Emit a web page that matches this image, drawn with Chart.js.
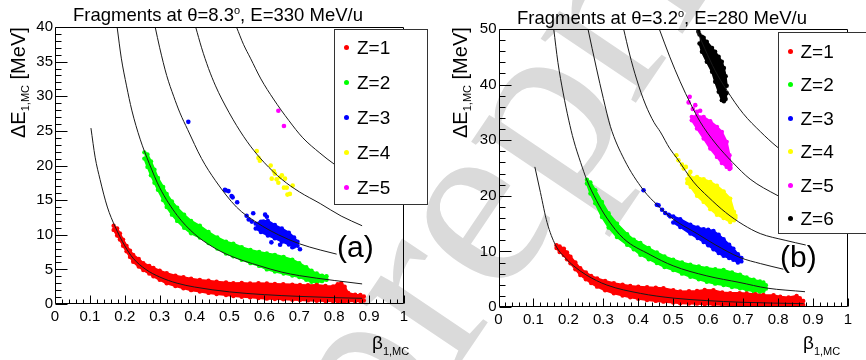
<!DOCTYPE html>
<html><head><meta charset="utf-8">
<script src="https://cdn.jsdelivr.net/npm/chart.js@4.4.1/dist/chart.umd.min.js"></script>
<style>
html,body{margin:0;padding:0;background:#fff}
body{width:866px;height:360px;overflow:hidden;position:relative;font-family:"Liberation Sans",Arial,Helvetica,sans-serif;color:#000}
canvas{position:absolute;top:0;z-index:2}
#cA{left:0}
#cB{left:433px}
.t{position:absolute;white-space:nowrap;line-height:1;z-index:3}
.leg{position:absolute;background:#fff;border:1px solid #333;box-sizing:border-box;z-index:4}
.lrow{position:absolute;font-size:19px;line-height:19px;white-space:nowrap;z-index:5}
.ldot{position:absolute;width:5px;height:5px;border-radius:50%;z-index:5}
.wm{position:absolute;z-index:1;font-family:"Liberation Serif","DejaVu Serif",serif;font-size:250px;line-height:250px;color:#dadada;white-space:nowrap;transform-origin:0 209.4px;transform:rotate(-56deg)}
.rot{transform-origin:0 0;transform:rotate(-90deg)}
</style></head>
<body>
<div class="wm" style="left:385px;top:266px">preprint</div>
<canvas id="cA" width="433" height="360"></canvas>
<canvas id="cB" width="433" height="360"></canvas>
<div class="t" style="left:73px;top:5px;font-size:18.5px">Fragments at θ=8.3<sup style="font-size:11px;vertical-align:7px">o</sup>, E=330 MeV/u</div>
<div class="t" style="left:517px;top:8.3px;font-size:18.5px">Fragments at θ=3.2<sup style="font-size:11px;vertical-align:7px">o</sup>, E=280 MeV/u</div>
<div class="t rot" style="left:8px;top:138px;font-size:20px;line-height:20px">ΔE<span style="font-size:11px;position:relative;top:4px">1,MC</span> [MeV]</div>
<div class="t rot" style="left:450px;top:138px;font-size:20px;line-height:20px">ΔE<span style="font-size:11px;position:relative;top:4px">1,MC</span> [MeV]</div>
<div class="t" style="left:372px;top:333px;font-size:19px">β<span style="font-size:11px;position:relative;top:6px">1,MC</span></div>
<div class="t" style="left:803px;top:333px;font-size:19px">β<span style="font-size:11px;position:relative;top:6px">1,MC</span></div>
<div class="t" style="left:337px;top:232px;font-size:30px">(a)</div>
<div class="t" style="left:780px;top:242px;font-size:30px">(b)</div>
<div id="legA" class="leg" style="left:334px;top:29px;width:94px;height:176px"></div>
<div id="legB" class="leg" style="left:778px;top:32px;width:100px;height:202px"></div>
<script>
// ---------- labels ----------
const seriesNamesA = ['Z=1','Z=2','Z=3','Z=4','Z=5'];
const seriesNamesB = ['Z=1','Z=2','Z=3','Z=4','Z=5','Z=6'];
const seriesColors = ['#ff0000','#00ff00','#0000ff','#ffff00','#ff00ff','#000000'];
const xTickLabels = ['0','0.1','0.2','0.3','0.4','0.5','0.6','0.7','0.8','0.9','1'];
const yTickLabelsA = ['0','5','10','15','20','25','30','35','40'];
const yTickLabelsB = ['0','10','20','30','40','50'];

// ---------- panel (a): dense clouds as [beta, lower dE, upper dE] ----------
const A_band1 = [[0.168,10.7,11.3],[0.178,9.9,10.9],[0.186,9.3,10.2],[0.195,8.4,9.3],[0.205,7.6,8.4],[0.215,6.8,7.7],[0.224,6.1,7.1],[0.24,5.4,6.5],[0.253,4.9,5.9],[0.27,4.4,5.5],[0.282,4.0,5.2],[0.30,3.5,4.8],[0.32,3.0,4.45],[0.345,2.6,4.1],[0.368,2.27,3.87],[0.39,2.0,3.65],[0.415,1.8,3.48],[0.44,1.6,3.35],[0.463,1.45,3.23],[0.49,1.3,3.1],[0.511,1.16,3.0],[0.535,1.05,3.05],[0.559,0.97,2.95],[0.583,0.85,3.0],[0.607,0.77,2.95],[0.63,0.72,2.9],[0.654,0.68,2.85],[0.68,0.62,2.8],[0.702,0.58,2.75],[0.725,0.52,2.7],[0.75,0.48,2.75],[0.775,0.44,2.6],[0.797,0.40,2.55],[0.81,0.40,2.85],[0.82,0.40,3.0],[0.83,0.40,2.5],[0.84,0.40,1.6],[0.86,0.40,1.35],[0.875,0.42,1.3],[0.885,0.5,1.1]];
const A_band2 = [[0.256,21.0,21.9],[0.265,19.8,21.6],[0.275,18.6,20.6],[0.285,17.5,19.4],[0.295,16.5,18.2],[0.31,15.0,16.9],[0.32,14.0,15.9],[0.335,12.9,14.8],[0.35,12.0,13.9],[0.37,11.0,12.9],[0.39,10.2,12.0],[0.415,9.6,11.3],[0.44,8.8,10.4],[0.465,8.0,9.6],[0.49,7.3,9.0],[0.511,6.9,8.7],[0.535,6.4,8.2],[0.56,5.9,7.8],[0.585,5.5,7.5],[0.607,5.0,7.3],[0.63,4.7,7.1],[0.655,4.4,6.8],[0.68,4.1,6.4],[0.70,3.9,5.9],[0.72,3.5,5.3],[0.735,3.2,4.8],[0.75,3.1,4.4],[0.765,3.3,4.1],[0.778,3.5,4.0]];
const A_band3 = [[0.575,10.9,11.6],[0.59,10.4,11.9],[0.61,9.9,12.0],[0.63,9.5,11.4],[0.65,9.0,10.9],[0.67,8.6,10.3],[0.685,8.3,9.6],[0.695,8.4,9.0]];
// ---------- panel (a): isolated points [beta, dE] ----------
const A_pts3 = [[0.382,26.3],[0.487,16.5],[0.49,16.4],[0.497,16.3],[0.506,15.6],[0.509,15.4],[0.522,14.7],[0.549,12.75],[0.568,13.1],[0.564,11.9],[0.602,12.9],[0.607,12.6],[0.597,11.9],[0.702,7.9],[0.645,8.55],[0.62,8.9],[0.68,8.2],[0.555,12.2]];
const A_pts4 = [[0.578,22.1],[0.583,21.1],[0.587,20.7],[0.618,20.0],[0.63,18.8],[0.621,18.1],[0.635,18.0],[0.65,18.6],[0.659,18.1],[0.64,17.5],[0.656,16.8],[0.664,16.8],[0.681,17.1],[0.666,15.8],[0.673,15.9],[0.645,18.3],[0.627,19.2]];
const A_pts5 = [[0.64,27.9],[0.656,25.7]];
// ---------- panel (a): expected dE curves ----------
const A_curve1 = [[0.103,25.4],[0.115,21.2],[0.129,18.0],[0.15,14.0],[0.172,11.2],[0.2,8.4],[0.224,6.6],[0.26,5.0],[0.3,3.9],[0.35,3.0],[0.4,2.45],[0.5,1.75],[0.6,1.35],[0.7,1.1],[0.8,0.92],[0.88,0.82]];
const A_curve2 = [[0.178,40],[0.19,35.5],[0.205,31.5],[0.22,28.0],[0.244,23.8],[0.27,20.3],[0.30,16.8],[0.35,12.8],[0.40,10.1],[0.45,8.3],[0.50,7.0],[0.587,5.5],[0.65,4.6],[0.70,4.1],[0.80,3.4],[0.88,2.9]];
const A_curve3 = [[0.287,40],[0.30,37.0],[0.32,33.0],[0.34,30.0],[0.358,27.6],[0.38,25.2],[0.42,21.0],[0.46,17.8],[0.52,14.0],[0.58,11.7],[0.64,10.0],[0.70,8.7],[0.76,7.8],[0.807,7.2]];
const A_curve4 = [[0.403,40],[0.42,37.0],[0.44,34.0],[0.46,31.5],[0.478,29.6],[0.52,25.8],[0.56,22.8],[0.60,20.4],[0.65,18.0],[0.70,16.2],[0.76,14.5],[0.82,12.7],[0.88,11.3]];
const A_curve5 = [[0.52,40],[0.54,37.5],[0.56,35.5],[0.59,32.5],[0.626,29.6],[0.67,26.5],[0.71,24.0],[0.759,21.8],[0.80,20.2],[0.88,17.7]];

// ---------- panel (b): dense clouds ----------
const B_band1 = [[0.166,10.6,11.1],[0.175,9.9,10.9],[0.187,9.35,10.5],[0.196,8.6,9.8],[0.206,7.86,9.05],[0.22,6.8,8.0],[0.234,5.76,6.96],[0.25,5.0,6.2],[0.265,4.3,5.6],[0.282,3.66,5.15],[0.305,3.0,4.7],[0.33,2.46,4.26],[0.355,2.05,4.0],[0.377,1.74,3.78],[0.40,1.48,3.65],[0.425,1.26,3.54],[0.45,1.1,3.45],[0.472,0.96,3.36],[0.50,0.8,3.0],[0.52,0.66,2.8],[0.545,0.62,2.85],[0.568,0.6,2.9],[0.59,0.5,3.05],[0.615,0.45,3.0],[0.64,0.4,2.6],[0.663,0.36,2.5],[0.69,0.34,2.5],[0.71,0.32,2.45],[0.735,0.31,2.3],[0.758,0.3,2.15],[0.787,0.28,2.1],[0.806,0.26,1.85],[0.83,0.25,1.7],[0.853,0.24,2.0],[0.862,0.26,1.6],[0.872,0.36,1.1]];
const B_band2 = [[0.253,22.2,22.9],[0.263,20.4,22.4],[0.277,18.65,21.0],[0.296,16.2,18.9],[0.315,14.3,16.85],[0.339,12.6,15.0],[0.368,11.2,13.1],[0.387,10.4,12.1],[0.406,9.4,11.5],[0.43,8.6,10.6],[0.453,7.9,9.8],[0.475,7.2,9.1],[0.50,6.65,8.5],[0.525,6.0,8.0],[0.549,5.45,7.6],[0.573,5.0,7.3],[0.596,4.55,7.0],[0.62,4.2,6.8],[0.644,3.96,6.65],[0.668,3.6,6.2],[0.691,3.36,5.8],[0.71,3.1,5.3],[0.73,2.85,4.9],[0.748,2.75,4.6],[0.758,2.9,4.4],[0.765,3.3,3.9]];
const B_band3 = [[0.50,15.2,16.3],[0.52,14.4,15.8],[0.549,13.2,14.8],[0.57,12.4,14.3],[0.587,11.7,14.0],[0.60,11.1,13.9],[0.615,10.4,13.7],[0.63,9.7,13.0],[0.644,9.2,12.2],[0.66,8.8,11.2],[0.672,8.5,10.5],[0.685,8.0,9.5],[0.695,8.2,8.8]];
const B_band4 = [[0.54,22.3,23.0],[0.55,21.6,23.3],[0.568,20.0,23.4],[0.587,18.9,23.0],[0.606,17.6,22.5],[0.625,16.6,21.8],[0.644,16.0,20.8],[0.663,15.3,19.5],[0.674,15.6,17.1],[0.678,16.0,16.4]];
const B_band5 = [[0.553,33.6,34.2],[0.568,32.1,34.4],[0.587,30.3,34.2],[0.606,28.5,33.4],[0.625,27.0,32.4],[0.639,25.9,31.5],[0.653,25.2,29.7],[0.661,24.8,27.3],[0.664,25.0,25.6]];
const B_band6 = [[0.575,47.4,49.0],[0.582,45.9,48.6],[0.596,44.1,47.7],[0.611,42.3,46.6],[0.62,40.5,45.9],[0.63,38.7,45.0],[0.639,37.2,44.1],[0.645,37.0,43.0],[0.650,37.4,41.5],[0.653,38.5,39.8]];
// ---------- panel (b): isolated points ----------
const B_pts3 = [[0.415,21.0],[0.453,18.4],[0.458,18.3],[0.468,17.5],[0.477,16.9],[0.487,16.6],[0.491,16.3]];
const B_pts4 = [[0.509,27.3],[0.515,26.4],[0.525,25.6],[0.53,24.9],[0.536,25.2],[0.549,24.3],[0.545,23.8]];
const B_pts5 = [[0.547,37.8],[0.544,36.8],[0.563,36.3],[0.568,35.1],[0.577,35.3],[0.556,35.6]];
const B_pts6 = [[0.572,49.5],[0.587,48.4]];
// ---------- panel (b): expected dE curves ----------
const B_curve1 = [[0.104,25.2],[0.12,20.6],[0.139,15.2],[0.163,11.15],[0.19,8.9],[0.215,7.4],[0.25,5.8],[0.31,3.95],[0.406,2.45],[0.50,1.6],[0.596,1.15],[0.691,0.86],[0.787,0.7],[0.873,0.6]];
const B_curve2 = [[0.158,50],[0.17,44],[0.185,38.5],[0.201,33.6],[0.215,30],[0.235,26],[0.253,22.8],[0.28,19.2],[0.31,16.0],[0.358,12.3],[0.434,9.4],[0.50,7.4],[0.596,5.6],[0.691,4.4],[0.768,3.4],[0.877,2.75]];
const B_curve3 = [[0.256,50],[0.28,43],[0.30,37.5],[0.32,32.5],[0.36,26.5],[0.415,21.0],[0.455,18.3],[0.50,15.8],[0.568,13.2],[0.62,11.2],[0.691,8.9],[0.75,7.8],[0.815,6.8]];
const B_curve4 = [[0.358,50],[0.375,45.5],[0.395,41],[0.42,36.5],[0.445,33.2],[0.463,31.5],[0.49,28.5],[0.51,26.8],[0.558,22.5],[0.60,19.8],[0.65,17.0],[0.70,14.8],[0.749,13.2],[0.82,12.0],[0.879,11.15]];
const B_curve5 = [[0.46,50],[0.49,45],[0.52,40.5],[0.55,36.5],[0.577,33.3],[0.62,29.5],[0.67,26],[0.72,23],[0.797,20.1],[0.88,17.5]];
const B_curve6 = [[0.566,50],[0.59,46.5],[0.62,42.5],[0.653,39.0],[0.70,34.8],[0.75,31.5],[0.797,28.8],[0.88,25.0]];

const FONT = '"Liberation Sans", Arial, Helvetica, sans-serif';
const toXY = (arr, k) => arr.map(r => ({x: r[0], y: r[k]}));

function buildDatasets(bands, pts, curves) {
  const ds = [];
  curves.forEach(c => ds.push({data: toXY(c,1), borderColor:'#1a1a1a', borderWidth:1, pointRadius:0,
    cubicInterpolationMode:'monotone', fill:false, order:1}));
  pts.forEach((p, i) => { if (p) ds.push({data: toXY(p,1), showLine:false, pointRadius:2.3,
    pointBackgroundColor: seriesColors[i], pointBorderWidth:0, order:2}); });
  bands.forEach((b, i) => { if (!b) return; const c = seriesColors[i];
    ds.push({data: toXY(b,1), borderColor:c, borderWidth:2, pointRadius:2.2, pointBackgroundColor:c,
      pointBorderWidth:0, fill:false, tension:0, order:3});
    ds.push({data: toXY(b,2), borderColor:c, backgroundColor:c, borderWidth:2, pointRadius:2.2,
      pointBackgroundColor:c, pointBorderWidth:0, fill:'-1', tension:0, order:3});
  });
  return ds;
}

const rootAxes = {
  id:'rootAxes',
  afterDatasetsDraw(chart, args, o) {
    const {ctx, chartArea:a} = chart; const xs = chart.scales.x, ys = chart.scales.y;
    ctx.save(); ctx.strokeStyle = '#000'; ctx.lineWidth = 1; ctx.beginPath();
    const L = Math.round(a.left)+0.5, R = Math.round(a.right)-0.5, T = Math.round(a.top)+0.5, B = Math.round(a.bottom)-0.5;
    ctx.rect(L, T, R-L, B-T);
    for (let i = 0; i <= o.xN; i++) { const px = Math.round(xs.getPixelForValue(i*o.xMinor))+0.5;
      const len = i % o.xEvery === 0 ? 8 : 4; ctx.moveTo(px, B); ctx.lineTo(px, B-len); }
    for (let i = 0; i <= o.yN; i++) { const py = Math.round(ys.getPixelForValue(i*o.yMinor))+0.5;
      const len = i % o.yEvery === 0 ? 12 : 6; ctx.moveTo(L, py); ctx.lineTo(L+len, py); }
    ctx.stroke(); ctx.restore();
  }
};

function makeChart(id, datasets, yMax, yStep, yLabels, padTop, padRight, yWidth, xHeight, axOpts) {
  return new Chart(document.getElementById(id), {
    type:'line',
    data:{datasets},
    plugins:[rootAxes],
    options:{
      responsive:false, animation:false, devicePixelRatio:1, events:[],
      layout:{padding:{left:0, right:padRight, top:padTop, bottom:0}},
      plugins:{legend:{display:false}, tooltip:{enabled:false}, rootAxes:axOpts},
      scales:{
        x:{type:'linear', min:0, max:1, afterFit(s){ s.height = xHeight; },
          grid:{display:false, drawTicks:false}, border:{display:false},
          ticks:{stepSize:0.1, autoSkip:false, maxRotation:0, padding:4, color:'#000',
            font:{family:FONT, size:15}, callback:(v,i)=>xTickLabels[i]}},
        y:{type:'linear', min:0, max:yMax, afterFit(s){ s.width = yWidth; },
          grid:{display:false, drawTicks:false}, border:{display:false},
          ticks:{stepSize:yStep, autoSkip:false, padding:2, color:'#000',
            font:{family:FONT, size:15}, callback:(v,i)=>yLabels[i]}}
      }
    }
  });
}

makeChart('cA', buildDatasets([A_band1,A_band2,A_band3,null,null],[null,null,A_pts3,A_pts4,A_pts5],
  [A_curve1,A_curve2,A_curve3,A_curve4,A_curve5]), 40, 5, yTickLabelsA, 27, 29, 55, 56,
  {xMinor:0.02, xN:50, xEvery:5, yMinor:1, yN:40, yEvery:5});
makeChart('cB', buildDatasets([B_band1,B_band2,B_band3,B_band4,B_band5,B_band6],[null,null,B_pts3,B_pts4,B_pts5,B_pts6],
  [B_curve1,B_curve2,B_curve3,B_curve4,B_curve5,B_curve6]), 50, 10, yTickLabelsB, 29, 18, 65.5, 53,
  {xMinor:0.02, xN:50, xEvery:5, yMinor:2, yN:25, yEvery:5});

// ---------- legends ----------
function legend(names, dotX, textX, rows) {
  names.forEach((n, i) => {
    const yc = rows[i];
    const d = document.createElement('div'); d.className = 'ldot';
    d.style.left = (dotX-2.5)+'px'; d.style.top = (yc-2.5)+'px'; d.style.background = seriesColors[i];
    document.body.appendChild(d);
    const t = document.createElement('div'); t.className = 'lrow'; t.textContent = n;
    t.style.left = textX+'px'; t.style.top = (yc-9.3)+'px';
    document.body.appendChild(t);
  });
}
legend(seriesNamesA, 346, 357, [47, 82.5, 117.5, 152.5, 187.5]);
legend(seriesNamesB, 790, 800.5, [51, 84.5, 118, 151.5, 185, 218.5]);
</script>
</body></html>
